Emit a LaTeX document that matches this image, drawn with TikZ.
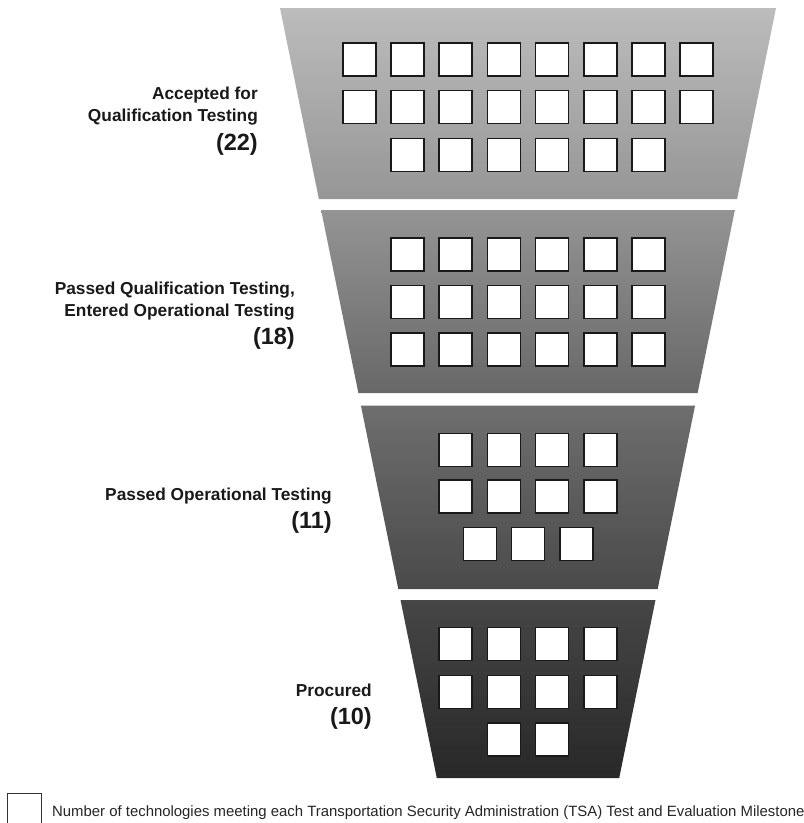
\documentclass[tikz,border=0pt]{standalone}
\usepackage{fontspec}
\setmainfont{Liberation Sans}
\begin{document}
\begin{tikzpicture}[x=1pt,y=-1pt,
  techbox/.style={draw=black!90, fill=white, line width=1.6pt, minimum width=33pt, minimum height=33pt, inner sep=0pt},
  stagelabel/.style={anchor=east, align=right, inner sep=0pt, font=\fontsize{17.3}{22.5}\selectfont\bfseries, text=black!90},
  stagenum/.style={anchor=east, inner sep=0pt, font=\fontsize{23.5}{26}\selectfont\bfseries, text=black!90}
]
\clip (0,0) rectangle (804,823);
\fill[white] (0,0) rectangle (804,823);
% funnel sections
\definecolor{g1}{RGB}{188,188,188}
\definecolor{g2}{RGB}{150,150,150}
\definecolor{g3}{RGB}{148,148,148}
\definecolor{g4}{RGB}{104,104,104}
\definecolor{g5}{RGB}{110,110,110}
\definecolor{g6}{RGB}{74,74,74}
\definecolor{g7}{RGB}{70,70,70}
\definecolor{g8}{RGB}{40,40,40}
\shade[top color=g1, bottom color=g2] (280,8) -- (776,8) -- (737.1,199) -- (318.9,199) -- cycle;
\shade[top color=g3, bottom color=g4] (321.1,210) -- (734.9,210) -- (697.6,393) -- (358.4,393) -- cycle;
\shade[top color=g5, bottom color=g6] (360.9,405.5) -- (695.1,405.5) -- (657.7,589) -- (398.3,589) -- cycle;
\shade[top color=g7, bottom color=g8] (400.5,600) -- (655.5,600) -- (619.2,778) -- (436.8,778) -- cycle;
% section 1: 22
\foreach \i in {0,...,7} {
  \node[techbox] (a1\i) at ({528+48.2*(\i-3.5)},59.5) {};
  \node[techbox] (a2\i) at ({528+48.2*(\i-3.5)},107) {};
}
\foreach \i in {0,...,5} {
  \node[techbox] (a3\i) at ({528+48.2*(\i-2.5)},155) {};
}
% section 2: 18
\foreach \i in {0,...,5} {
  \node[techbox] (b1\i) at ({528+48.2*(\i-2.5)},254.5) {};
  \node[techbox] (b2\i) at ({528+48.2*(\i-2.5)},302) {};
  \node[techbox] (b3\i) at ({528+48.2*(\i-2.5)},349.5) {};
}
% section 3: 11
\foreach \i in {0,...,3} {
  \node[techbox] (c1\i) at ({528+48.2*(\i-1.5)},450) {};
  \node[techbox] (c2\i) at ({528+48.2*(\i-1.5)},496.5) {};
}
\foreach \i in {0,...,2} {
  \node[techbox] (c3\i) at ({528+48.2*(\i-1)},544) {};
}
% section 4: 10
\foreach \i in {0,...,3} {
  \node[techbox] (d1\i) at ({528+48.2*(\i-1.5)},644) {};
  \node[techbox] (d2\i) at ({528+48.2*(\i-1.5)},692) {};
}
\foreach \i in {0,...,1} {
  \node[techbox] (d3\i) at ({528+48.2*(\i-0.5)},739.5) {};
}
% labels
\node[stagelabel] (l1) at (258,106) {Accepted for\\Qualification Testing};
\node[stagenum] (n1) at (258,144) {(22)};
\node[stagelabel] (l2) at (295,301) {Passed Qualification Testing,\\Entered Operational Testing};
\node[stagenum] (n2) at (295,338) {(18)};
\node[stagelabel] (l3) at (332,496) {Passed Operational Testing};
\node[stagenum] (n3) at (332,522) {(11)};
\node[stagelabel] (l4) at (372,690) {Procured};
\node[stagenum] (n4) at (372,718) {(10)};
% legend
\draw[black!80, line width=1pt] (7,830) -- (7,793) -- (41,793) -- (41,830);
\node[anchor=base west, inner sep=0pt, font=\fontsize{14.9}{16}\selectfont, text=black!85] (legtext) at (52,816) {Number of technologies meeting each Transportation Security Administration (TSA) Test and Evaluation Milestone};
\end{tikzpicture}
\end{document}
